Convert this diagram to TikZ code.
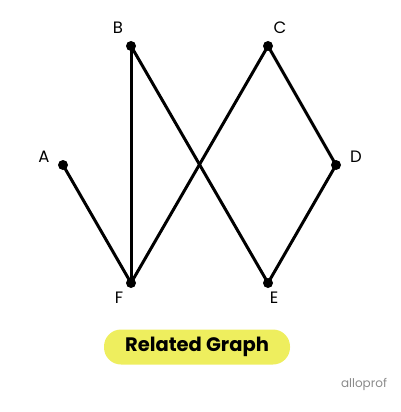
\documentclass[tikz,border=0pt]{standalone}
\usepackage{fontspec}
\setmainfont{Poppins}
\definecolor{hl}{HTML}{EEEE5E}
\definecolor{logo}{HTML}{8A8A8A}
\begin{document}
\begin{tikzpicture}[x=1pt,y=-1pt,
  vtx/.style={circle,fill=black,inner sep=0pt,minimum size=10pt},
  lbl/.style={font=\fontsize{16.5}{16.5}\selectfont},
  edge/.style={line width=3pt}]
\useasboundingbox (0,0) rectangle (400,412);
\node[vtx] (A) at (63,165) {};
\node[vtx] (B) at (131,46) {};
\node[vtx] (C) at (268,46) {};
\node[vtx] (D) at (336,165) {};
\node[vtx] (E) at (268,283) {};
\node[vtx] (F) at (131,283) {};
\node[lbl] (lA) at (44,157) {A};
\node[lbl] (lB) at (118,28) {B};
\node[lbl] (lC) at (280,28) {C};
\node[lbl] (lD) at (356,157) {D};
\node[lbl] (lE) at (274,298) {E};
\node[lbl] (lF) at (119,298) {F};
\draw[edge] (A.center) -- (F.center);
\draw[edge] (B.center) -- (F.center);
\draw[edge] (B.center) -- (E.center);
\draw[edge] (C.center) -- (F.center);
\draw[edge] (C.center) -- (D.center);
\draw[edge] (D.center) -- (E.center);
\node[fill=hl,rounded corners=17pt,minimum width=186pt,minimum height=35pt,font=\fontsize{19.5}{19.5}\selectfont\bfseries] (title) at (197,347) {Related Graph};
\node[text=logo,font=\fontsize{12}{12}\selectfont] (logo) at (364,384) {alloprof};
\end{tikzpicture}
\end{document}
